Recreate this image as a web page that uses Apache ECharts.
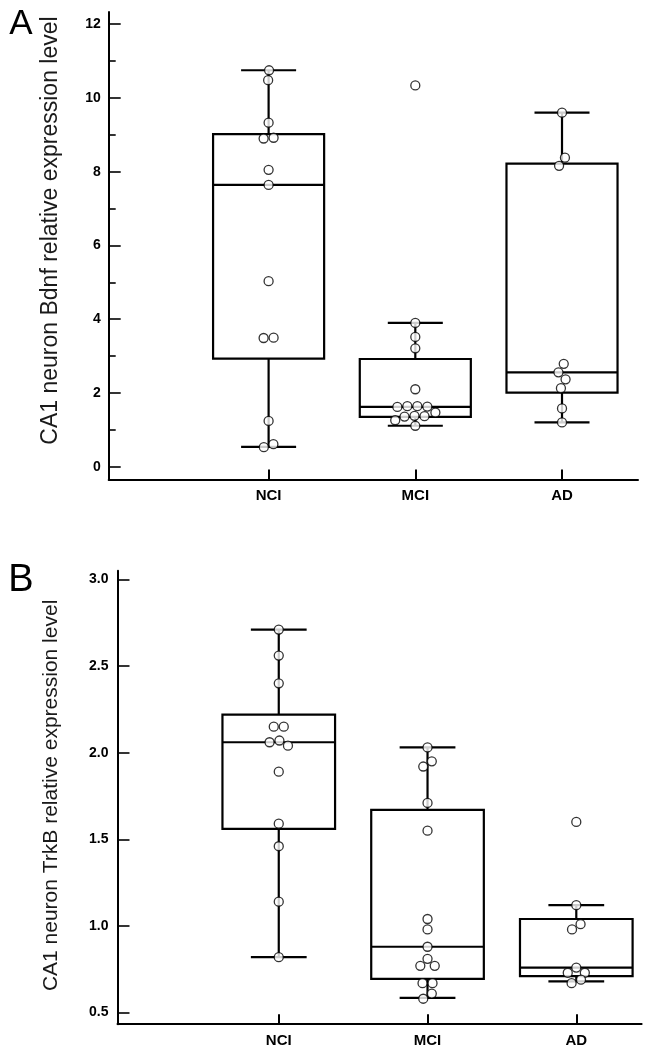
<!DOCTYPE html>
<html><head><meta charset="utf-8">
<script src="https://cdn.jsdelivr.net/npm/echarts@6/dist/echarts.min.js"></script>
<style>html,body{margin:0;padding:0;background:#fff}#c{width:648px;height:1050px}</style>
</head><body><div id="c"></div>
<script>
// ---- data ----
const groups = ['NCI', 'MCI', 'AD'];
const bdnfNCI = [10.75, 10.48, 9.33, 8.92, 8.90, 8.05, 7.64, 5.03, 3.50, 3.49, 1.24, 0.61, 0.53];
const bdnfMCI = [10.34, 3.90, 3.52, 3.21, 2.10, 1.64, 1.64, 1.63, 1.62, 1.47, 1.38, 1.37, 1.36, 1.26, 1.11];
const bdnfAD = [9.60, 8.38, 8.16, 2.79, 2.56, 2.37, 2.13, 1.58, 1.20];
// [min, Q1, median, Q3, max]
const bdnfNCIBox = [0.54, 2.93, 7.64, 9.02, 10.75];
const bdnfMCIBox = [1.11, 1.35, 1.62, 2.92, 3.90];
const bdnfADBox = [1.20, 2.01, 2.56, 8.22, 9.60];
const trkbNCI = [2.71, 2.56, 2.40, 2.15, 2.15, 2.07, 2.06, 2.04, 1.89, 1.59, 1.46, 1.14, 0.82];
const trkbMCI = [2.03, 1.95, 1.92, 1.71, 1.55, 1.04, 0.98, 0.88, 0.81, 0.77, 0.77, 0.67, 0.67, 0.61, 0.58];
const trkbAD = [1.60, 1.12, 1.01, 0.98, 0.76, 0.73, 0.73, 0.69, 0.67];
const trkbNCIBox = [0.82, 1.56, 2.06, 2.22, 2.71];
const trkbMCIBox = [0.585, 0.695, 0.88, 1.67, 2.03];
const trkbADBox = [0.68, 0.71, 0.76, 1.04, 1.12];
const bdnfTicks = [0, 2, 4, 6, 8, 10, 12];
const bdnfMinorTicks = [1, 3, 5, 7, 9, 11];
const trkbTicks = [0.5, 1.0, 1.5, 2.0, 2.5, 3.0];
const groupTicks = [1, 2, 3];
const titleA = 'CA1 neuron Bdnf relative expression level';
const titleB = 'CA1 neuron TrkB relative expression level';

// ---- layout ----
const FONT = '"Liberation Sans", Arial, Helvetica, sans-serif';
const gA = {left: 108.7, top: 12, width: 529.3, height: 467.5};
const gB = {left: 117.5, top: 570.7, width: 524.1, height: 453.5};
const yA = {min: -0.347, max: 12.33};
const yB = {min: 0.433, max: 3.05};
const xA = {min: -0.09, max: 3.518};
const xB = {min: -0.084, max: 3.439};
const BOX_W = 0.757, CAP_W = 0.375;
const SYM = 9, D = 10;

function swarm(vals, pxPer) {
  const order = vals.map((v, i) => i).sort((a, b) => vals[b] - vals[a]);
  const placed = [];
  const off = new Array(vals.length).fill(0);
  for (const i of order) {
    const y = -vals[i] * pxPer;
    const forb = [];
    for (const p of placed) {
      const dy = Math.abs(p.y - y);
      if (dy < D) { const w = Math.sqrt(D * D - dy * dy); forb.push([p.x - w, p.x + w]); }
    }
    const cands = [0];
    forb.forEach(f => cands.push(f[0], f[1]));
    cands.sort((a, b) => Math.abs(a) - Math.abs(b) || a - b);
    let x = 0;
    for (const c of cands) {
      if (forb.every(f => c <= f[0] + 1e-6 || c >= f[1] - 1e-6)) { x = c; break; }
    }
    placed.push({x, y, i});
    off[i] = x;
  }
  // center touching clusters
  const n = placed.length, comp = new Array(n).fill(-1);
  let cid = 0;
  for (let s = 0; s < n; s++) {
    if (comp[s] >= 0) continue;
    const stack = [s]; comp[s] = cid;
    while (stack.length) {
      const a = stack.pop();
      for (let b = 0; b < n; b++) {
        if (comp[b] >= 0) continue;
        const dx = placed[a].x - placed[b].x, dy = placed[a].y - placed[b].y;
        if (Math.sqrt(dx * dx + dy * dy) < D * 1.02) { comp[b] = cid; stack.push(b); }
      }
    }
    cid++;
  }
  for (let c = 0; c < cid; c++) {
    const mem = placed.filter((p, k) => comp[k] === c);
    if (mem.length < 2) continue;
    const xs = mem.map(p => p.x);
    const shift = -(Math.min(...xs) + Math.max(...xs)) / 2;
    mem.forEach(p => { off[p.i] = p.x + shift; });
  }
  return off;
}

function scatterData(lists, g, y) {
  const pxPer = g.height / (y.max - y.min);
  const out = [];
  lists.forEach((vals, gi) => {
    const off = swarm(vals, pxPer);
    vals.forEach((v, k) => out.push({value: [gi + 1, v], symbolOffset: [off[k], 0]}));
  });
  return out;
}

function boxSeries(stats, xi, yi) {
  return {
    type: 'custom', xAxisIndex: xi, yAxisIndex: yi, z: 2,
    data: stats.map((s, i) => [i + 1].concat(s)),
    encode: {x: 0, y: [1, 2, 3, 4, 5]},
    renderItem: function (params, api) {
      const x = api.value(0);
      const p = [1, 2, 3, 4, 5].map(k => api.coord([x, api.value(k)]));
      const cx = p[2][0];
      const bw = api.size([BOX_W, 0])[0], cw = api.size([CAP_W, 0])[0];
      const st = {stroke: '#000', lineWidth: 2.2, fill: null};
      const line = (x1, y1, x2, y2) => ({type: 'line', shape: {x1, y1, x2, y2}, style: st});
      return {type: 'group', children: [
        line(cx, p[0][1], cx, p[1][1]),
        line(cx, p[3][1], cx, p[4][1]),
        line(cx - cw / 2, p[0][1], cx + cw / 2, p[0][1]),
        line(cx - cw / 2, p[4][1], cx + cw / 2, p[4][1]),
        {type: 'rect', shape: {x: cx - bw / 2, y: p[3][1], width: bw, height: p[1][1] - p[3][1]},
         style: {stroke: '#000', lineWidth: 2.2, fill: '#fff'}},
        line(cx - bw / 2, p[2][1], cx + bw / 2, p[2][1])
      ]};
    }
  };
}

function xAxisDef(gi, r) {
  return {
    gridIndex: gi, type: 'value', min: r.min, max: r.max,
    axisLine: {show: true, onZero: false, lineStyle: {color: '#000', width: 2}},
    axisTick: {show: true, inside: true, length: 10, customValues: groupTicks, lineStyle: {color: '#000', width: 2}},
    axisLabel: {customValues: groupTicks, formatter: v => groups[Math.round(v) - 1] || '',
                fontFamily: FONT, fontWeight: 'bold', fontSize: 15, color: '#000', margin: 9},
    splitLine: {show: false}
  };
}

const scatterStyle = {color: '#fff', borderColor: '#000', borderWidth: 1.3};

const option = {
  backgroundColor: '#fff',
  animation: false,
  grid: [
    {left: gA.left, top: gA.top, width: gA.width, height: gA.height},
    {left: gB.left, top: gB.top, width: gB.width, height: gB.height}
  ],
  xAxis: [xAxisDef(0, xA), xAxisDef(1, xB)],
  yAxis: [
    {gridIndex: 0, type: 'value', min: yA.min, max: yA.max, position: 'left',
     axisLine: {show: true, onZero: false, lineStyle: {color: '#000', width: 2}},
     axisTick: {show: true, inside: true, length: 12, customValues: bdnfTicks, lineStyle: {color: '#000', width: 1.6}},
     axisLabel: {customValues: bdnfTicks, fontFamily: FONT, fontWeight: 'bold', fontSize: 14, color: '#000', margin: 8},
     splitLine: {show: false}},
    // minor ticks: a right-side axis moved onto the left axis line, ticks pointing right
    {gridIndex: 0, type: 'value', min: yA.min, max: yA.max, position: 'right', offset: -gA.width,
     axisLine: {show: false, onZero: false},
     axisTick: {show: true, inside: false, length: 7, customValues: bdnfMinorTicks, lineStyle: {color: '#000', width: 1.6}},
     axisLabel: {show: false}, splitLine: {show: false}},
    {gridIndex: 1, type: 'value', min: yB.min, max: yB.max, position: 'left',
     axisLine: {show: true, onZero: false, lineStyle: {color: '#000', width: 2}},
     axisTick: {show: true, inside: true, length: 12, customValues: trkbTicks, lineStyle: {color: '#000', width: 1.6}},
     axisLabel: {customValues: trkbTicks, formatter: v => v.toFixed(1), fontFamily: FONT, fontWeight: 'bold', fontSize: 14, color: '#000', margin: 9},
     splitLine: {show: false}}
  ],
  series: [
    boxSeries([bdnfNCIBox, bdnfMCIBox, bdnfADBox], 0, 0),
    {type: 'scatter', xAxisIndex: 0, yAxisIndex: 0, z: 5, symbol: 'circle', symbolSize: SYM,
     itemStyle: scatterStyle, data: scatterData([bdnfNCI, bdnfMCI, bdnfAD], gA, yA)},
    boxSeries([trkbNCIBox, trkbMCIBox, trkbADBox], 1, 2),
    {type: 'scatter', xAxisIndex: 1, yAxisIndex: 2, z: 5, symbol: 'circle', symbolSize: SYM,
     itemStyle: scatterStyle, data: scatterData([trkbNCI, trkbMCI, trkbAD], gB, yB)}
  ],
  graphic: [
    {type: 'text', x: 21, y: 24, style: {text: 'A', fontFamily: FONT, fontSize: 35, fill: '#000', align: 'center', verticalAlign: 'middle'}},
    {type: 'text', x: 21, y: 581, style: {text: 'B', fontFamily: FONT, fontSize: 38, fill: '#000', align: 'center', verticalAlign: 'middle'}},
    {type: 'text', x: 51, y: 230.5, rotation: Math.PI / 2,
     style: {text: titleA, fontFamily: FONT, fontSize: 23, fill: '#1a1a1a', align: 'center', verticalAlign: 'middle'}},
    {type: 'text', x: 51.5, y: 795.4, rotation: Math.PI / 2,
     style: {text: titleB, fontFamily: FONT, fontSize: 21, fill: '#1a1a1a', align: 'center', verticalAlign: 'middle'}}
  ]
};

const chart = echarts.init(document.getElementById('c'), null, {renderer: 'canvas'});
chart.setOption(option);
</script>
</body></html>
